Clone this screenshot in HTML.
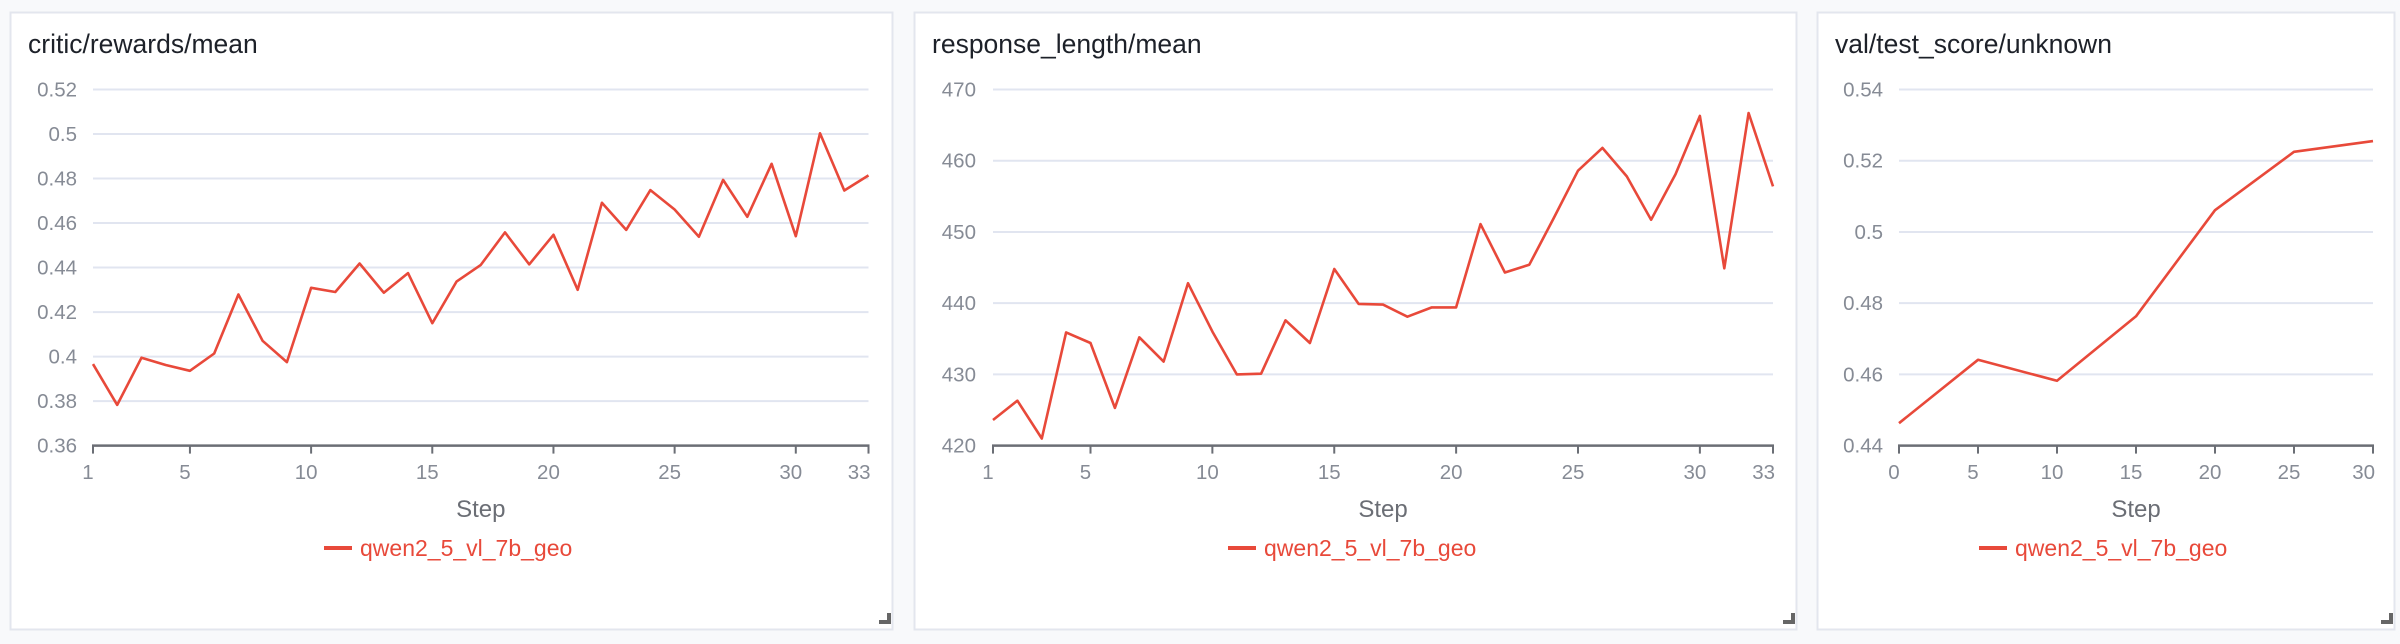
<!DOCTYPE html>
<html><head><meta charset="utf-8"><style>
html,body{margin:0;padding:0;background:#f8f9fb;}
svg{display:block;font-family:"Liberation Sans",sans-serif;}
</style></head><body>
<svg id="root" width="2400" height="644" viewBox="0 0 2400 644"></svg>
<script>
// ---- Chart 1: critic/rewards/mean ----
const rewardsSteps = [1,2,3,4,5,6,7,8,9,10,11,12,13,14,15,16,17,18,19,20,21,22,23,24,25,26,27,28,29,30,31,32,33];
const rewardsValues = [0.3966,0.3783,0.3995,0.3962,0.3936,0.4014,0.4279,0.4071,0.3975,0.4309,0.4290,0.4418,0.4287,0.4375,0.4150,0.4337,0.4412,0.4558,0.4414,0.4547,0.4300,0.4691,0.4569,0.4748,0.4661,0.4538,0.4794,0.4628,0.4866,0.4541,0.5003,0.4746,0.4814];
const rewardsYTicks = [0.36,0.38,0.40,0.42,0.44,0.46,0.48,0.50,0.52];
const rewardsYLabels = ["0.36","0.38","0.4","0.42","0.44","0.46","0.48","0.5","0.52"];
const rewardsXTicks = [1,5,10,15,20,25,30,33];

// ---- Chart 2: response_length/mean ----
const lengthSteps = [1,2,3,4,5,6,7,8,9,10,11,12,13,14,15,16,17,18,19,20,21,22,23,24,25,26,27,28,29,30,31,32,33];
const lengthValues = [423.6,426.3,421.0,435.9,434.4,425.3,435.2,431.8,442.8,436.0,430.0,430.1,437.6,434.4,444.8,439.9,439.8,438.1,439.4,439.4,451.1,444.3,445.4,451.9,458.6,461.8,457.8,451.7,458.1,466.3,444.9,466.7,456.4];
const lengthYTicks = [420,430,440,450,460,470];
const lengthYLabels = ["420","430","440","450","460","470"];
const lengthXTicks = [1,5,10,15,20,25,30,33];

// ---- Chart 3: val/test_score/unknown ----
const scoreSteps = [0,5,10,15,20,25,30];
const scoreValues = [0.4463,0.4641,0.4582,0.4763,0.5061,0.5225,0.5255];
const scoreYTicks = [0.44,0.46,0.48,0.50,0.52,0.54];
const scoreYLabels = ["0.44","0.46","0.48","0.5","0.52","0.54"];
const scoreXTicks = [0,5,10,15,20,25,30];

const NS = "http://www.w3.org/2000/svg";
const root = document.getElementById('root');
function mk(tag, attrs, parent){
  const e = document.createElementNS(NS, tag);
  for (const k in attrs) e.setAttribute(k, attrs[k]);
  (parent||root).appendChild(e);
  return e;
}
const RED = "#e8493a";

function panel(cfg){
  const g = mk('g', {});
  
  
  const bg = mk('rect', {x:cfg.px+0.5, y:12.5, width:cfg.pw-1, height:617, fill:'#fff', stroke:'#e3e6ee', 'stroke-width':2}, g);
  
  
  const t = mk('text', {x:cfg.px+18, y:53, 'font-size':26.5, fill:'#1d2129'}, g);
  t.textContent = cfg.title;
  
  

  const x0 = cfg.ax0, x1 = cfg.ax1, yTop = 89.5, yBot = 445.6;
  const xMin = cfg.xTicks[0], xMax = cfg.xTicks[cfg.xTicks.length-1];
  const yMin = cfg.yTicks[0], yMax = cfg.yTicks[cfg.yTicks.length-1];
  const sx = v => x0 + (v - xMin) / (xMax - xMin) * (x1 - x0);
  const sy = v => yBot - (v - yMin) / (yMax - yMin) * (yBot - yTop);

  cfg.yTicks.forEach((v, i) => {
    if (i > 0) {
      const gl = mk('line', {x1:x0, x2:x1, y1:sy(v), y2:sy(v), stroke:'#e1e5f0', 'stroke-width':2}, g);
      
      
    }
    const lb = mk('text', {x:cfg.labRight, y:sy(v)+7, 'font-size':20.5, fill:'#868b95', 'text-anchor':'end'}, g);
    lb.textContent = cfg.yLabels[i];
    
    
  });
  const ax = mk('line', {x1:x0-1, x2:x1+1, y1:yBot, y2:yBot, stroke:'#6b6e75', 'stroke-width':2.5}, g);
  
  
  cfg.xTicks.forEach(v => {
    const tk = mk('line', {x1:sx(v), x2:sx(v), y1:yBot, y2:yBot+8, stroke:'#6b6e75', 'stroke-width':2}, g);
    
    
    let anchor = 'middle', dx = -5;
    if (v === xMax) { anchor = 'end'; dx = 2; }
    const lb = mk('text', {x:sx(v)+dx, y:479, 'font-size':20.5, fill:'#868b95', 'text-anchor':anchor}, g);
    lb.textContent = String(v);
    
    
  });
  const st = mk('text', {x:(x0+x1)/2, y:517, 'font-size':24, fill:'#6b6e75', 'text-anchor':'middle'}, g);
  st.textContent = 'Step';
  
  

  let d = '';
  cfg.xs.forEach((x, i) => { d += (i ? 'L' : 'M') + sx(x).toFixed(1) + ',' + sy(cfg.ys[i]).toFixed(1); });
  const p = mk('path', {d:d, fill:'none', stroke:RED, 'stroke-width':2.6, 'stroke-linejoin':'round'}, g);
  
  

  const lg = mk('g', {}, g);
  
  
  const lx = cfg.legX;
  mk('line', {x1:lx, x2:lx+28, y1:548, y2:548, stroke:RED, 'stroke-width':4}, lg);
  const lt = mk('text', {x:lx+36, y:556, 'font-size':23, fill:RED}, lg);
  lt.textContent = 'qwen2_5_vl_7b_geo';

  const rz = mk('path', {d:`M${cfg.px+cfg.pw-14},624 h12 v-11 h-4 v7 h-8z`, fill:'#666'}, g);
  
  
}

panel({name:'rewards-chart', px:10, pw:883, title:'critic/rewards/mean', ax0:93, ax1:868.5, labRight:77,
  xs:rewardsSteps, ys:rewardsValues, yTicks:rewardsYTicks, yLabels:rewardsYLabels, xTicks:rewardsXTicks, legX:324});
panel({name:'response-length-chart', px:914, pw:883, title:'response_length/mean', ax0:993, ax1:1773, labRight:976,
  xs:lengthSteps, ys:lengthValues, yTicks:lengthYTicks, yLabels:lengthYLabels, xTicks:lengthXTicks, legX:1228});
panel({name:'test-score-chart', px:1817, pw:578, title:'val/test_score/unknown', ax0:1899, ax1:2373, labRight:1883,
  xs:scoreSteps, ys:scoreValues, yTicks:scoreYTicks, yLabels:scoreYLabels, xTicks:scoreXTicks, legX:1979});
</script>
</body></html>
